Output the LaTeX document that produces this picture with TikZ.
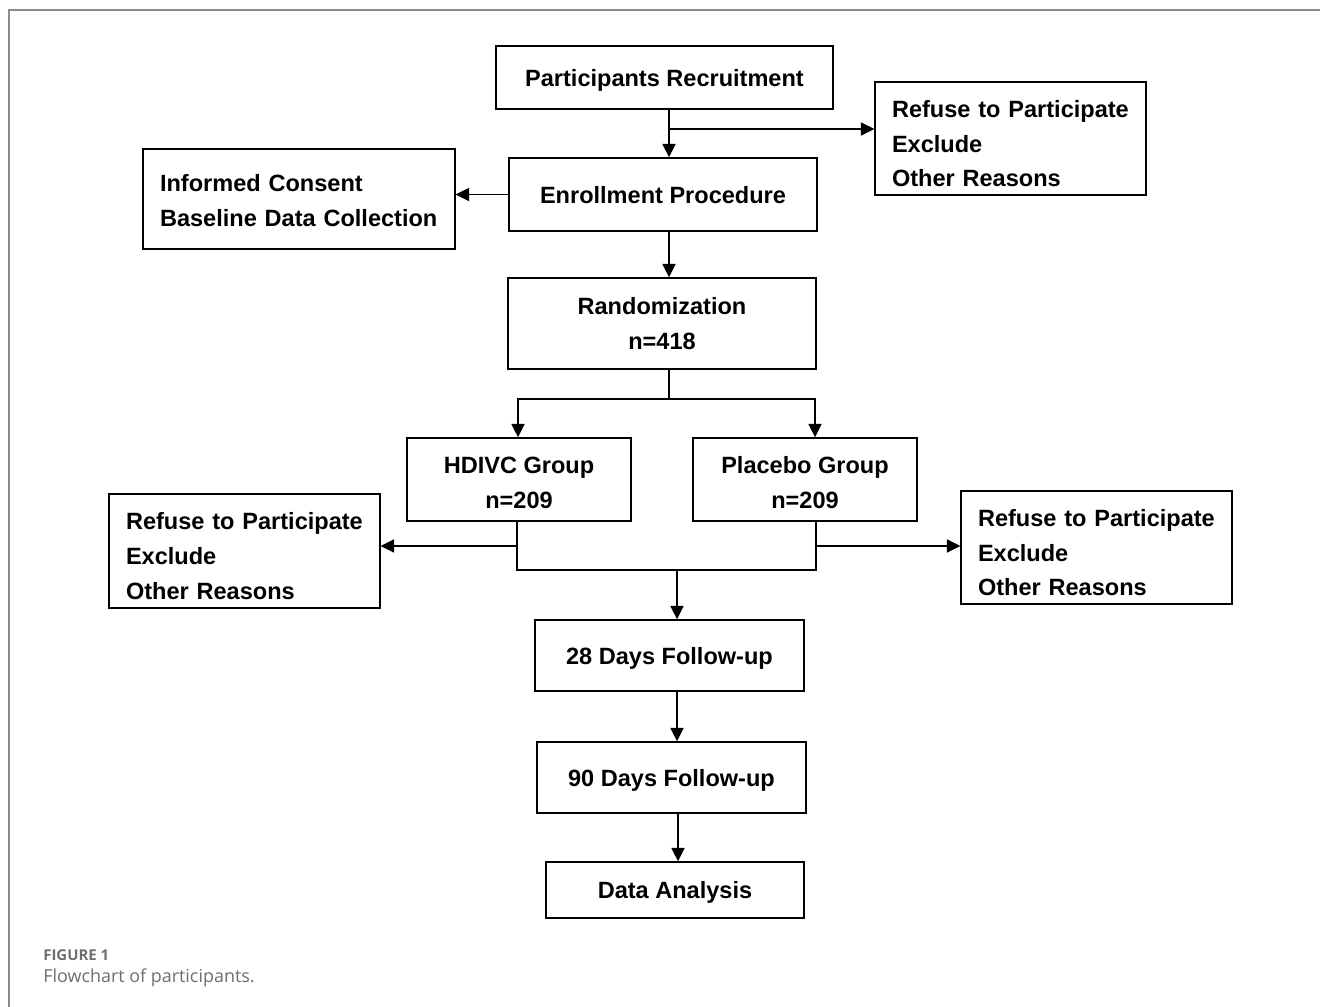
\documentclass[tikz,border=0pt]{standalone}
\usepackage{fontspec}
\setmainfont{Liberation Sans}
\newfontfamily\capfont{Open Sans}
\usetikzlibrary{arrows.meta}
\definecolor{framegray}{HTML}{8A8A8A}
\definecolor{capgray}{HTML}{6E6E6E}
\newcommand{\topgap}[1]{\rule{0pt}{#1}}
\tikzstyle{every node}=[inner sep=0pt]
\tikzstyle{box}=[draw=black, line width=0.8pt, align=center,
  font=\fontsize{13.4}{19.9}\selectfont\bfseries]
\tikzstyle{onebox}=[box, text depth=-0.02cm]
\tikzstyle{listbox}=[box, align=left, inner xsep=0.34cm]
\tikzstyle{link}=[line width=1pt, -{Triangle[length=0.27cm,width=0.26cm]}]
\tikzstyle{line}=[line width=1pt]

\begin{document}
\begin{tikzpicture}[x=0.02cm, y=-0.02cm]
  \useasboundingbox (0,0) rectangle (1320,1007);
  \draw[framegray, line width=1.1pt] (9,1007) -- (9,10) -- (1320,10);

  % main column
  \node[onebox, minimum width=6.74cm, minimum height=1.26cm] (recruit) at (664.5,77.5) {Participants Recruitment};
  \node[onebox, minimum width=6.16cm, minimum height=1.46cm] (enroll) at (663,194.5) {Enrollment Procedure};
  \node[box, minimum width=6.16cm, minimum height=1.82cm] (random) at (662,323.5) {Randomization\\n=418};
  \node[box, minimum width=4.48cm, minimum height=1.66cm] (hdivc) at (519,479.5) {\topgap{13.2pt}HDIVC Group\\n=209};
  \node[box, minimum width=4.48cm, minimum height=1.66cm] (placebo) at (805,479.5) {\topgap{13.2pt}Placebo Group\\n=209};
  \node[onebox, minimum width=5.38cm, minimum height=1.42cm] (day28) at (669.5,655.5) {28 Days Follow-up};
  \node[onebox, minimum width=5.38cm, minimum height=1.42cm] (day90) at (671.5,777.5) {90 Days Follow-up};
  \node[onebox, minimum width=5.16cm, minimum height=1.12cm] (analysis) at (675,890) {Data Analysis};

  % side boxes
  \node[listbox, text width=4.74cm, minimum height=2.26cm] (refusetop) at (1010.5,138.5)
    {\topgap{15.5pt}Refuse to Participate\\Exclude\\Other Reasons};
  \node[listbox, text width=5.56cm, minimum height=2.0cm] (consent) at (299,199)
    {\topgap{11pt}Informed Consent\\Baseline Data Collection};
  \node[listbox, text width=4.74cm, minimum height=2.28cm] (refuseleft) at (244.5,551)
    {\topgap{15.5pt}Refuse to Participate\\Exclude\\Other Reasons};
  \node[listbox, text width=4.74cm, minimum height=2.26cm] (refuseright) at (1096.5,547.5)
    {\topgap{15.5pt}Refuse to Participate\\Exclude\\Other Reasons};

  % helper points
  \coordinate (split) at (669,399);
  \coordinate (join) at (677,570);

  % connectors
  \draw[link] (recruit.south -| 669,0) -- (enroll.north -| 669,0);
  \draw[link] (669,129) -- (refusetop.west |- 669,129);
  \draw[link] (enroll.west) -- (consent.east |- enroll.west);
  \draw[link] (enroll.south -| 669,0) -- (random.north -| 669,0);
  \draw[line] (random.south -| split) -- (split);
  \draw[link] (split) -| (hdivc.north -| 518,0);
  \draw[link] (split) -| (placebo.north -| 815,0);
  \draw[line] (hdivc.south -| 517,0) |- (join) -| (placebo.south -| 816,0);
  \draw[link] (517,546) -- (refuseleft.east |- 517,546);
  \draw[link] (816,546) -- (refuseright.west |- 816,546);
  \draw[link] (join) -- (day28.north -| join);
  \draw[link] (day28.south -| 677,0) -- (day90.north -| 677,0);
  \draw[link] (day90.south -| 678,0) -- (analysis.north -| 678,0);

  % caption
  \node[anchor=west, capgray, font=\capfont\fontsize{8.5}{10}\selectfont\bfseries] (figlabel) at (43,955) {FIGURE 1};
  \node[anchor=west, capgray, font=\capfont\fontsize{10.2}{12}\selectfont] (figcaption) at (43,978) {Flowchart of participants.};
\end{tikzpicture}
\end{document}
